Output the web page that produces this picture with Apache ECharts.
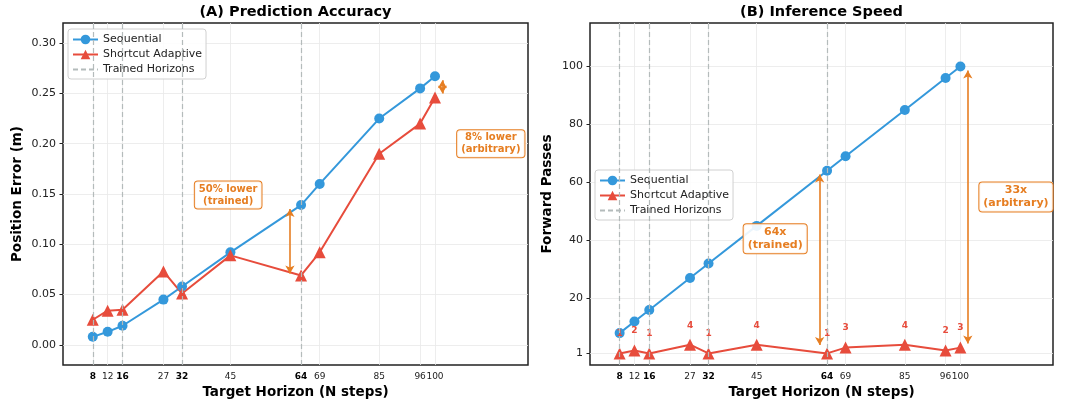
<!DOCTYPE html>
<html>
<head>
<meta charset="utf-8">
<script src="https://cdn.jsdelivr.net/npm/echarts@6/dist/echarts.min.js"></script>
<style>
  html, body { margin: 0; padding: 0; background: #fff; }
  #chart { width: 1065px; height: 402px; }
</style>
</head>
<body>
<div id="chart"></div>
<script>
// target horizons (x) and the trained ones (dashed lines, bold labels)
const horizons = [8, 12, 16, 27, 32, 45, 64, 69, 85, 96, 100];
const trainedHorizons = [8, 16, 32, 64];

// (A) position error in metres
const seqError = [0.008, 0.013, 0.019, 0.045, 0.058, 0.092, 0.139, 0.160, 0.225, 0.255, 0.267];
const shortcutError = [0.025, 0.034, 0.035, 0.073, 0.051, 0.089, 0.069, 0.092, 0.190, 0.220, 0.246];
const errorTicks = [0, 0.05, 0.10, 0.15, 0.20, 0.25, 0.30];

// (B) forward passes
const seqPasses = [8, 12, 16, 27, 32, 45, 64, 69, 85, 96, 100];
const shortcutPasses = [1, 2, 1, 4, 1, 4, 1, 3, 4, 2, 3];
const passTicks = [1, 20, 40, 60, 80, 100];

const BLUE = '#3498db', RED = '#e74c3c', ORANGE = '#e67e22';
const FONT = 'DejaVu Sans';

let myChart = echarts.init(document.getElementById('chart'));

function pairs(ys) {
    return horizons.map((h, i) => [h, ys[i]]);
}

function xAxisFor(idx) {
    return {
        type: 'value', gridIndex: idx, min: 0, max: 125,
        name: 'Target Horizon (N steps)', nameLocation: 'middle', nameGap: 19,
        nameTextStyle: {fontFamily: FONT, fontSize: 13.5, fontWeight: 'bold', color: '#000'},
        axisLine: {show: false},
        axisTick: {show: false, customValues: horizons},
        axisLabel: {
            customValues: horizons, margin: 7,
            fontFamily: FONT, fontSize: 9, color: '#222',
            formatter: v => trainedHorizons.indexOf(v) >= 0 ? '{b|' + v + '}' : String(v),
            rich: {b: {fontFamily: FONT, fontSize: 9, fontWeight: 'bold', color: '#000'}}
        },
        splitLine: {show: true, lineStyle: {color: '#e8e8e8', width: 0.8}}
    };
}

function yAxisFor(idx, opts) {
    return Object.assign({
        type: 'value', gridIndex: idx,
        nameLocation: 'middle',
        nameTextStyle: {fontFamily: FONT, fontSize: 13.5, fontWeight: 'bold', color: '#000'},
        axisLine: {show: false},
        axisTick: {show: true, length: 3.5, lineStyle: {color: '#222'}},
        splitLine: {show: true, lineStyle: {color: '#e8e8e8', width: 0.8}}
    }, opts);
}

function trainedSeries(idx) {
    return {
        name: 'Trained Horizons', type: 'line', xAxisIndex: idx, yAxisIndex: idx,
        data: [], symbol: 'none', silent: true,
        lineStyle: {color: '#b4bbbb', type: [5, 3], width: 1.2},
        markLine: {
            silent: true, symbol: 'none', label: {show: false},
            lineStyle: {color: '#b4bbbb', type: [5, 3], width: 1.2},
            emphasis: {disabled: true},
            data: trainedHorizons.map(h => ({xAxis: h}))
        },
        z: 1
    };
}

function annotSeries(idx, arrows, boxes, fontSize) {
    return {
        name: 'annot' + idx, type: 'line', xAxisIndex: idx, yAxisIndex: idx,
        data: [], symbol: 'none', silent: true,
        markLine: {
            silent: true, symbol: ['arrow', 'arrow'], symbolSize: [7, 8],
            label: {show: false},
            lineStyle: {color: ORANGE, type: 'solid', width: 1.6},
            emphasis: {disabled: true},
            data: arrows.map(a => [{coord: a[0]}, {coord: a[1]}])
        },
        markPoint: {
            silent: true, symbol: 'rect', symbolSize: 0,
            label: {
                show: true, position: 'inside',
                fontFamily: FONT, fontSize: fontSize, fontWeight: 'bold', color: ORANGE,
                lineHeight: fontSize + 2, align: 'center',
                backgroundColor: 'rgba(255,255,255,0.9)', borderColor: ORANGE, borderWidth: 1,
                borderRadius: 3, padding: [2, 4, 1, 4],
                formatter: p => p.name
            },
            data: boxes.map(b => ({name: b[1], coord: b[0]}))
        },
        z: 5
    };
}

function legendFor(left, top) {
    return {
        orient: 'vertical', left: left, top: top,
        itemWidth: 25, itemHeight: 12, itemGap: 4,
        padding: [5, 4, 4, 4],
        backgroundColor: 'rgba(255,255,255,0.85)', borderColor: '#d0d0d0', borderWidth: 1, borderRadius: 3,
        textStyle: {fontFamily: FONT, fontSize: 11, color: '#222'},
        data: ['Sequential', 'Shortcut Adaptive',
            {name: 'Trained Horizons', itemStyle: {opacity: 0}, lineStyle: {type: [5, 3], color: '#b4bbbb'}}]
    };
}

let option = {
    animation: false,
    backgroundColor: '#fff',
    graphic: [
        {type: 'text', x: 295.5, y: 12, style: {text: '(A) Prediction Accuracy', font: 'bold 14.5px ' + FONT, fill: '#000', textAlign: 'center', textVerticalAlign: 'middle'}},
        {type: 'text', x: 821.5, y: 12, style: {text: '(B) Inference Speed', font: 'bold 14.5px ' + FONT, fill: '#000', textAlign: 'center', textVerticalAlign: 'middle'}}
    ],
    legend: [legendFor(68, 29), legendFor(595, 170)],
    grid: [
        {left: 63, right: 537, top: 23, bottom: 37, outerBoundsMode: 'none', show: true, borderColor: '#222', borderWidth: 1.5, backgroundColor: 'transparent'},
        {left: 590, right: 12, top: 23, bottom: 37, outerBoundsMode: 'none', show: true, borderColor: '#222', borderWidth: 1.5, backgroundColor: 'transparent'}
    ],
    xAxis: [xAxisFor(0), xAxisFor(1)],
    yAxis: [
        yAxisFor(0, {
            min: -0.02, max: 0.32, name: 'Position Error (m)', nameGap: 39,
            axisTick: {show: true, length: 3.5, lineStyle: {color: '#222'}, customValues: errorTicks},
            axisLabel: {customValues: errorTicks, margin: 7, fontFamily: FONT, fontSize: 11, color: '#222', formatter: v => v.toFixed(2)}
        }),
        yAxisFor(1, {
            min: -3, max: 115, name: 'Forward Passes', nameGap: 36,
            axisTick: {show: true, length: 3.5, lineStyle: {color: '#222'}, customValues: passTicks},
            axisLabel: {customValues: passTicks, margin: 7, fontFamily: FONT, fontSize: 11, color: '#222'}
        })
    ],
    series: [
        trainedSeries(0),
        {
            name: 'Sequential', type: 'line', xAxisIndex: 0, yAxisIndex: 0,
            data: pairs(seqError), symbol: 'circle', symbolSize: 10,
            lineStyle: {color: BLUE, width: 2}, itemStyle: {color: BLUE}, z: 3
        },
        {
            name: 'Shortcut Adaptive', type: 'line', xAxisIndex: 0, yAxisIndex: 0,
            data: pairs(shortcutError), symbol: 'triangle', symbolSize: 12,
            lineStyle: {color: RED, width: 2}, itemStyle: {color: RED}, z: 3
        },
        annotSeries(0,
            [[[61, 0.135], [61, 0.071]], [[102, 0.263], [102, 0.250]]],
            [[[44.4, 0.149], '50% lower\n(trained)'], [[115, 0.200], '8% lower\n(arbitrary)']], 10),

        trainedSeries(1),
        {
            name: 'Sequential', type: 'line', xAxisIndex: 1, yAxisIndex: 1,
            data: pairs(seqPasses), symbol: 'circle', symbolSize: 10,
            lineStyle: {color: BLUE, width: 2}, itemStyle: {color: BLUE}, z: 3
        },
        {
            name: 'Shortcut Adaptive', type: 'line', xAxisIndex: 1, yAxisIndex: 1,
            data: pairs(shortcutPasses), symbol: 'triangle', symbolSize: 12,
            lineStyle: {color: RED, width: 2}, itemStyle: {color: RED}, z: 3,
            label: {
                show: true, position: 'top', distance: 9,
                fontFamily: FONT, fontSize: 9, fontWeight: 'bold', color: RED,
                formatter: p => p.value[1]
            }
        },
        annotSeries(1,
            [[[62, 62.7], [62, 3.9]], [[102, 98.6], [102, 4.4]]],
            [[[50, 40.6], '64x\n(trained)'], [[115, 55], '33x\n(arbitrary)']], 11)
    ]
};

myChart.setOption(option);
</script>
</body>
</html>
